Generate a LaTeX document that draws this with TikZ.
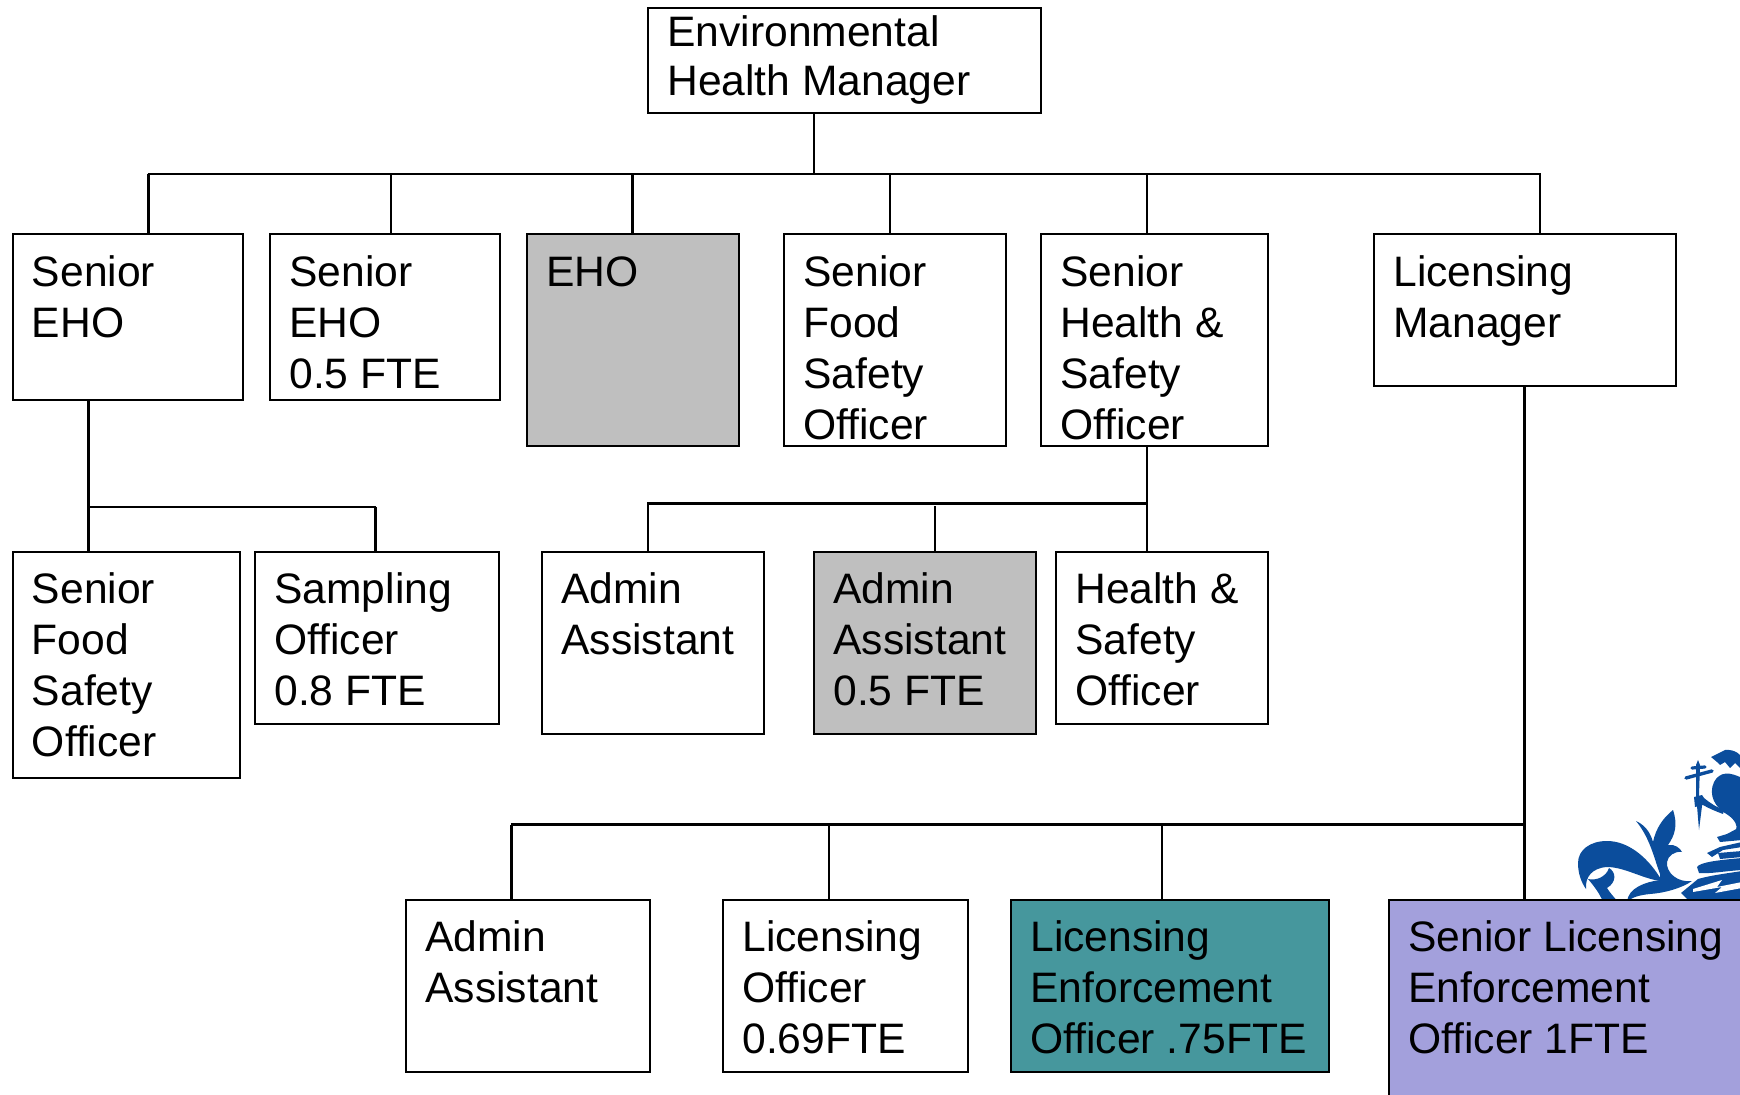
\documentclass[tikz,border=0pt]{standalone}
\usepackage{fontspec}
\setmainfont{Liberation Sans}
\definecolor{boxgray}{HTML}{BFBFBF}
\definecolor{boxteal}{HTML}{46979D}
\definecolor{boxpurple}{HTML}{A3A0DC}
\definecolor{crest}{HTML}{0B4D9C}
\tikzset{
  orgbox/.style={draw=black,line width=1pt,fill=white,anchor=north west,inner xsep=9.7pt,inner ysep=0pt,outer sep=0pt},
  conn/.style={draw=black,line width=1pt},
  connmid/.style={draw=black,line width=1.25pt},
  connthick/.style={draw=black,line width=1.5pt},
  crestfill/.style={fill=crest,draw=none},
  creststroke/.style={draw=crest,line cap=round}
}
\def\bxlead{25.5}
\def\bxfirst{26}
% name, x1, y1, x2, y2, style, text
\newcommand\bx[7]{%
  \pgfmathsetmacro\bxw{(#4-#2)*0.5-19.4}%
  \pgfmathsetmacro\bxh{(#5-#3)*0.5}%
  \node[orgbox,#6] (#1) at (#2,#3) {\parbox[c][\bxh pt][t]{\bxw pt}{\fontsize{21.3pt}{\bxlead pt}\selectfont\raggedright\rule{0pt}{\bxfirst pt}#7}};%
}
\begin{document}
\begin{tikzpicture}[x=0.5pt,y=-0.5pt]
\useasboundingbox (0,0) rectangle (1740,1095);
\clip (0,0) rectangle (1740,1095);
% crest: fleur
\path[crestfill] (1662,881) .. controls (1650,860) and (1630,841) .. (1607,841) .. controls (1590,841) and (1578,850) .. (1578,863) .. controls (1578,873) and (1581,882) .. (1586,889) .. controls (1585,877) and (1592,868) .. (1607,867) .. controls (1625,867) and (1645,880) .. (1662,881) -- cycle;
\path[crestfill] (1588,879) .. controls (1596,881) and (1606,877) .. (1609,868) .. controls (1616,872) and (1617,882) .. (1607,888) .. controls (1610,893) and (1614,897) .. (1618,902) -- (1603,902) .. controls (1600,894) and (1594,886) .. (1588,879) -- cycle;
\path[crestfill] (1627,902) .. controls (1628,888) and (1645,882) .. (1660,880) -- (1660,874) .. controls (1654,858) and (1650,838) .. (1636,821) .. controls (1647,826) and (1651,835) .. (1653,842) .. controls (1656,828) and (1663,818) .. (1673,810) .. controls (1678,825) and (1675,835) .. (1668,845) .. controls (1675,844) and (1680,848) .. (1682,852) .. controls (1674,851) and (1668,856) .. (1667,862) .. controls (1666,873) and (1678,883) .. (1692,881) .. controls (1682,888) and (1665,893) .. (1650,894) .. controls (1640,895) and (1632,897) .. (1627,902) -- cycle;
% crest: bird
\path[crestfill] (1711,757) -- (1725,750) .. controls (1735,749) and (1742,755) .. (1742,760) -- (1742,770) -- (1735,763) -- (1730,768) -- (1725,762) -- (1720,765) -- (1717,762) -- cycle;
\path[crestfill] (1742,778) .. controls (1730,772) and (1720,771) .. (1714,782) .. controls (1708,795) and (1715,808) .. (1728,815) .. controls (1735,820) and (1738,826) .. (1736,830) -- (1742,836) -- cycle;
% crest: staff and cross
\path[crestfill] (1698,760) -- (1700,765) -- (1699,795) -- (1702,806) -- (1699,830) -- (1697,806) -- (1696,795) -- (1696,765) -- cycle;
\path[creststroke,line width=1.7pt] (1686,778) -- (1712,771);
\path[creststroke,line width=1.6pt] (1692,768) -- (1705,767);
\path[crestfill] (1694,797) -- (1702,795) -- (1704,798) .. controls (1710,803) and (1716,807) .. (1724,810) -- (1723,814) .. controls (1715,811) and (1708,808) .. (1703,805) -- (1695,807) -- cycle;
% crest: perch
\path[crestfill] (1717,837) -- (1727,834) -- (1742,826) -- (1742,840) -- (1720,842) -- cycle;
\path[crestfill] (1707,853) -- (1720,847) -- (1742,842) -- (1742,847) -- (1723,850) -- (1712,857) -- cycle;
\path[crestfill] (1718,853) -- (1742,851) -- (1742,857) -- (1720,859) -- cycle;
\path[crestfill] (1697,867) .. controls (1700,862) and (1720,860) .. (1742,858) -- (1742,870) .. controls (1725,871) and (1710,874) .. (1699,873) -- cycle;
\path[crestfill] (1681,893) -- (1698,879) .. controls (1712,875) and (1730,873) .. (1742,871) -- (1742,902) -- (1690,902) -- cycle;
\path[fill=white,draw=none] (1693,889) -- (1722,880) -- (1717,887) -- (1742,882) -- (1742,888) -- (1715,893) -- (1722,887) -- (1693,892) -- cycle;
% boxes
\def\bxlead{24.5}\def\bxfirst{19.2}
\bx{top}{648}{8}{1041}{113}{}{Environmental\\Health Manager}
\def\bxlead{25.5}\def\bxfirst{26}
\bx{seho}{12.5}{234.5}{242.5}{400.5}{}{Senior\\EHO}
\bx{sehohalf}{270}{234.5}{500}{400.5}{}{Senior\\EHO\\0.5 FTE}
\bx{eho}{527}{234.5}{739}{446}{fill=boxgray}{EHO}
\bx{sfso}{784}{234.5}{1006}{446}{}{Senior\\Food\\Safety\\Officer}
\bx{shso}{1041}{234.5}{1268}{446}{}{Senior\\Health \&\\Safety\\Officer}
\bx{lman}{1374}{234.5}{1676}{386}{}{Licensing\\Manager}
\bx{sfsotwo}{12.5}{552}{240}{778.5}{}{Senior\\Food\\Safety\\Officer}
\bx{samp}{255}{552}{498.5}{724}{}{Sampling\\Officer\\0.8 FTE}
\bx{admina}{542}{552}{764}{734}{}{Admin\\Assistant}
\bx{adminb}{814}{552}{1036}{734}{fill=boxgray}{Admin\\Assistant\\0.5 FTE}
\bx{hso}{1056}{552}{1268}{724}{}{Health \&\\Safety\\Officer}
\bx{adminc}{406}{899.5}{650}{1072}{}{Admin\\Assistant}
\bx{lo}{723}{899.5}{968}{1072}{}{Licensing\\Officer\\0.69FTE}
\bx{leo}{1011}{899.5}{1329}{1072}{fill=boxteal}{Licensing\\Enforcement\\Officer .75FTE}
\bx{sleo}{1389}{899.5}{1770}{1125}{fill=boxpurple}{Senior Licensing\\Enforcement\\Officer 1FTE}
% bus junctions
\coordinate (a0) at (814,174);
\coordinate (a1) at (148.5,174);
\coordinate (a2) at (391,174);
\coordinate (a3) at (632.5,174);
\coordinate (a4) at (890,174);
\coordinate (a5) at (1147,174);
\coordinate (a6) at (1540,174);
\coordinate (b1) at (88,507);
\coordinate (b2) at (375.5,507);
\coordinate (c1) at (648,503.5);
\coordinate (c2) at (934.5,503.5);
\coordinate (c3) at (1147,503.5);
\coordinate (d1) at (511,824.5);
\coordinate (d2) at (829,824.5);
\coordinate (d3) at (1162,824.5);
\coordinate (d4) at (1524,824.5);
% connectors
\draw[conn] (top.south -| a0) -- (a0);
\draw[connmid] ([xshift=-0.5pt]a1) -- ([xshift=0.5pt]a6);
\draw[connmid] (a1) -- (a1 |- seho.north);
\draw[conn] (a2) -- (a2 |- sehohalf.north);
\draw[connthick] (a3) -- (a3 |- eho.north);
\draw[conn] (a4) -- (a4 |- sfso.north);
\draw[conn] (a5) -- (a5 |- shso.north);
\draw[connmid] (a6) -- (a6 |- lman.north);
\draw[connthick] (seho.south -| b1) -- (b1 |- sfsotwo.north);
\draw[conn] (b1) -- (b2);
\draw[connmid] (b2) -- (b2 |- samp.north);
\draw[conn] (shso.south -| c3) -- (c3 |- hso.north);
\draw[connthick] ([xshift=-0.5pt]c1) -- (c3);
\draw[connmid] ([yshift=-1pt]c1) -- (c1 |- admina.north);
\draw[conn] ([yshift=-1.5pt]c2) -- (c2 |- adminb.north);
\draw[connthick] (lman.south -| d4) -- (d4 |- sleo.north);
\draw[connthick] (d1) -- (d4);
\draw[connthick] (d1) -- (d1 |- adminc.north);
\draw[conn] (d2) -- (d2 |- lo.north);
\draw[conn] (d3) -- (d3 |- leo.north);
\end{tikzpicture}
\end{document}
